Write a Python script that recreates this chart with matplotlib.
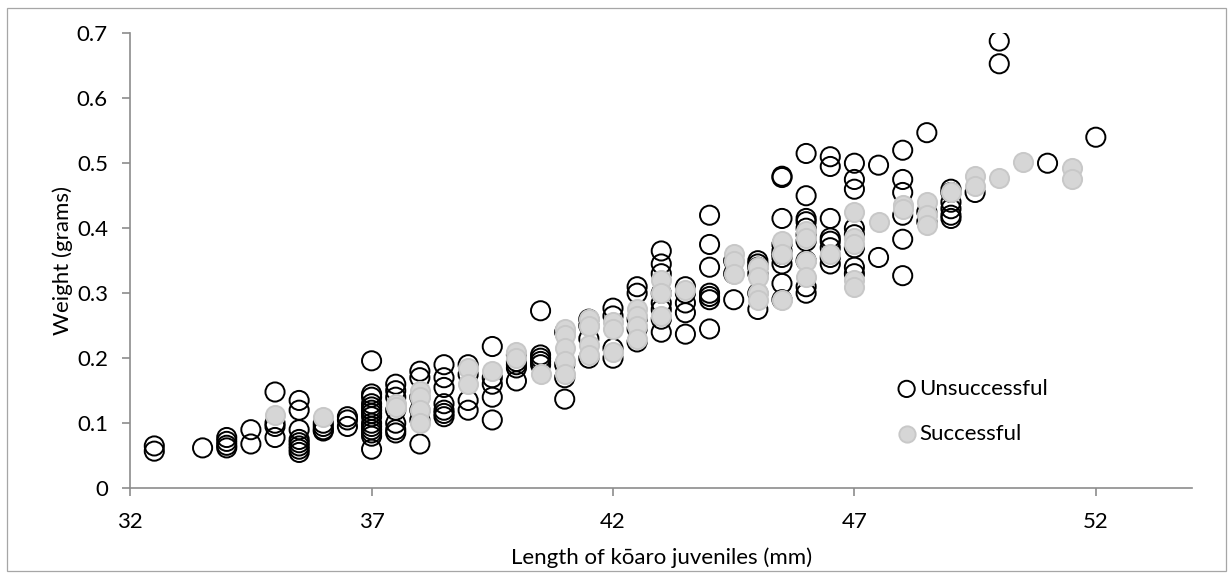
import matplotlib
matplotlib.use('Agg')
import matplotlib.pyplot as plt
from matplotlib.patches import Rectangle
from matplotlib.ticker import FuncFormatter

# Unsuccessful juveniles: length (mm) and weight (g)
unsuccessful_len = (
    [32.5] * 2 + [33.5] + [34] * 4 + [34.5] * 2 + [35] * 4 + [35.5] * 8 + [36] * 4 + [36.5] * 3
    + [37] * 14 + [37.5] * 7 + [38] * 6 + [38.5] * 7 + [39] * 4 + [39.5] * 5 + [40] * 5
    + [40.5] * 5 + [41] * 4 + [41.5] * 4 + [42] * 4 + [42.5] * 5 + [43] * 8 + [43.5] * 5
    + [44] * 7 + [44.5] * 3 + [45] * 6 + [45.5] * 10 + [46] * 10 + [46.5] * 8 + [47] * 8
    + [47.5] * 2 + [48] * 6 + [48.5] * 3 + [49] * 6 + [49.5] + [50] * 2 + [51] + [52]
)
unsuccessful_wt = [
    0.065, 0.057,
    0.062,
    0.078, 0.072, 0.066, 0.062,
    0.090, 0.068,
    0.148, 0.100, 0.095, 0.078,
    0.135, 0.120, 0.090, 0.075, 0.070, 0.065, 0.060, 0.055,
    0.100, 0.095, 0.090, 0.088,
    0.110, 0.105, 0.095,
    0.196, 0.145, 0.140, 0.130, 0.125, 0.120, 0.115, 0.110, 0.100, 0.095, 0.090, 0.085, 0.080, 0.060,
    0.160, 0.150, 0.140, 0.120, 0.100, 0.090, 0.085,
    0.180, 0.170, 0.140, 0.120, 0.105, 0.068,
    0.190, 0.170, 0.155, 0.130, 0.120, 0.115, 0.110,
    0.190, 0.175, 0.135, 0.120,
    0.218, 0.170, 0.160, 0.140, 0.105,
    0.205, 0.195, 0.190, 0.185, 0.165,
    0.273, 0.205, 0.200, 0.195, 0.190,
    0.240, 0.190, 0.170, 0.137,
    0.260, 0.250, 0.230, 0.200,
    0.277, 0.265, 0.215, 0.200,
    0.310, 0.300, 0.260, 0.245, 0.225,
    0.365, 0.345, 0.330, 0.300, 0.285, 0.275, 0.260, 0.240,
    0.310, 0.300, 0.285, 0.270, 0.237,
    0.420, 0.375, 0.340, 0.300, 0.295, 0.290, 0.245,
    0.350, 0.330, 0.290,
    0.350, 0.345, 0.340, 0.330, 0.300, 0.275,
    0.480, 0.478, 0.415, 0.375, 0.365, 0.360, 0.355, 0.345, 0.315, 0.290,
    0.515, 0.450, 0.415, 0.410, 0.400, 0.390, 0.380, 0.350, 0.310, 0.300,
    0.510, 0.495, 0.415, 0.385, 0.380, 0.370, 0.355, 0.345,
    0.500, 0.475, 0.460, 0.400, 0.390, 0.370, 0.340, 0.330,
    0.497, 0.355,
    0.520, 0.475, 0.455, 0.420, 0.383, 0.327,
    0.547, 0.425, 0.410,
    0.460, 0.455, 0.440, 0.430, 0.420, 0.415,
    0.455,
    0.688, 0.653,
    0.500,
    0.540,
]

# Successful juveniles
successful_len = (
    [35] + [36] + [37.5] * 2 + [38] * 4 + [39] * 2 + [39.5] + [40] * 2 + [40.5] + [41] * 5
    + [41.5] * 4 + [42] * 3 + [42.5] * 4 + [43] * 3 + [43.5] + [44.5] * 3 + [45] * 4
    + [45.5] * 3 + [46] * 4 + [46.5] + [47] * 5 + [47.5] + [48] * 2 + [48.5] * 3 + [49]
    + [49.5] * 2 + [50] + [50.5] + [51.5] * 2
)
successful_wt = [
    0.113,
    0.110,
    0.130, 0.125,
    0.150, 0.140, 0.120, 0.100,
    0.185, 0.160,
    0.180,
    0.210, 0.200,
    0.175,
    0.245, 0.235, 0.215, 0.195, 0.175,
    0.260, 0.250, 0.220, 0.205,
    0.255, 0.245, 0.210,
    0.275, 0.265, 0.250, 0.230,
    0.320, 0.300, 0.265,
    0.305,
    0.360, 0.350, 0.330,
    0.340, 0.325, 0.300, 0.290,
    0.380, 0.360, 0.290,
    0.395, 0.385, 0.350, 0.325,
    0.360,
    0.425, 0.385, 0.375, 0.320, 0.310,
    0.410,
    0.435, 0.430,
    0.440, 0.420, 0.405,
    0.455,
    0.480, 0.465,
    0.478,
    0.502,
    0.493, 0.475,
]

x_ticks = [32, 37, 42, 47, 52]
y_ticks = [0, 0.1, 0.2, 0.3, 0.4, 0.5, 0.6, 0.7]

plt.rcParams['font.family'] = ['Lato', 'DejaVu Sans']

fig = plt.figure(figsize=(12.28, 5.73), dpi=100)
ax = fig.add_axes([0.106, 0.148, 0.865, 0.794])

# Outer chart border
fig.patches.append(Rectangle((0.006, 0.003), 0.992, 0.983, transform=fig.transFigure,
                             fill=False, edgecolor='#a6a6a6', linewidth=0.9))

ax.scatter(unsuccessful_len, unsuccessful_wt, s=190, facecolors='none', edgecolors='black',
           linewidths=1.4, label='Unsuccessful', zorder=2)
ax.scatter(successful_len, successful_wt, s=190, facecolors='#d6d6d6', edgecolors='#c8c8c8',
           linewidths=1.4, label='Successful', zorder=3)

ax.set_xlim(32, 54)
ax.set_ylim(0, 0.7)
ax.set_xticks(x_ticks)
ax.set_yticks(y_ticks)
ax.yaxis.set_major_formatter(FuncFormatter(lambda v, _: '0' if v == 0 else f'{v:.1f}'))

for side in ['top', 'right']:
    ax.spines[side].set_visible(False)
for side in ['left', 'bottom']:
    ax.spines[side].set_color('#8c8c8c')
    ax.spines[side].set_linewidth(1.2)
ax.tick_params(axis='both', direction='out', length=6, width=1.2, color='#8c8c8c',
               labelsize=16, labelcolor='black')
ax.tick_params(axis='x', pad=11)
ax.tick_params(axis='y', pad=10)

ax.set_xlabel('Length of kōaro juveniles (mm)', fontsize=16, labelpad=11)
ax.set_ylabel('Weight (grams)', fontsize=16, labelpad=3)

ax.legend(loc='upper left', bbox_to_anchor=(0.709, 0.265), frameon=False, fontsize=16,
          handletextpad=0.0, handlelength=1.1, labelspacing=1.15, markerscale=0.85,
          borderpad=0)

fig.savefig('out.png', dpi=100)
